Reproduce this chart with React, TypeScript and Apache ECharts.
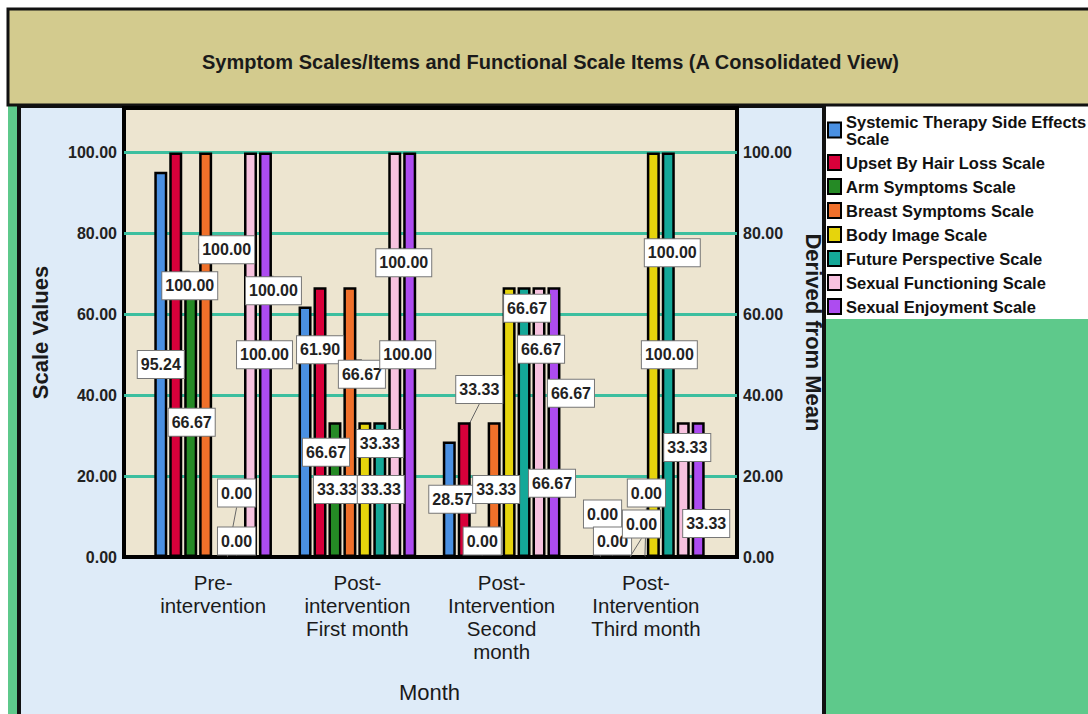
import React, { useEffect, useRef } from 'react';
import * as echarts from 'echarts';

// ---------- data ----------
const months = [
  'Pre-\nintervention',
  'Post-\nintervention\nFirst month',
  'Post-\nIntervention\nSecond\nmonth',
  'Post-\nIntervention\nThird month',
];
const seriesNames = [
  'Systemic Therapy Side Effects Scale',
  'Upset By Hair Loss Scale',
  'Arm Symptoms Scale',
  'Breast Symptoms Scale',
  'Body Image Scale',
  'Future Perspective Scale',
  'Sexual Functioning Scale',
  'Sexual Enjoyment Scale',
];
const systemicTherapy = [95.24, 61.9, 28.57, 0];
const upsetByHairLoss = [100, 66.67, 33.33, 0];
const armSymptoms = [66.67, 33.33, 0, 0];
const breastSymptoms = [100, 66.67, 33.33, 0];
const bodyImage = [0, 33.33, 66.67, 100];
const futurePerspective = [0, 33.33, 66.67, 100];
const sexualFunctioning = [100, 100, 66.67, 33.33];
const sexualEnjoyment = [100, 100, 66.67, 33.33];
const yMin = 0;
const yMax = 111;
const yInterval = 20;

// ---------- styling / layout ----------
const colors = ['#4a90e2', '#d8003a', '#258a25', '#f0702a', '#e6d40c', '#14a898', '#f7c2df', '#ad4cf0'];
// label displacement (dx, dy) from the bar centre, per series per category
const labelShift: number[][][] = [
  [[0, 0], [15, -82], [3, 0], [9, -43]],
  [[14, -69], [6, 30], [15, -100], [4, -16]],
  [[1, 0], [2, 0], [3, -16], [18, -33]],
  [[21, -105], [12, -48], [2, 0], [8, -64]],
  [[16, -64], [15, -46], [18, -114], [16, 0]],
  [[1, -16], [1, 0], [17, -73], [4, -102]],
  [[14, 0], [9, -92], [13, 61], [4, -42]],
  [[8, -64], [-2, 0], [17, -29], [8, 34]],
];

const FONT = "'Liberation Sans', Arial, sans-serif";

const seriesValues = [
  systemicTherapy, upsetByHairLoss, armSymptoms, breastSymptoms,
  bodyImage, futurePerspective, sexualFunctioning, sexualEnjoyment,
];

const fmt = (v: number) => v.toFixed(2);

export default function App() {
  const ref = useRef<HTMLDivElement>(null);
  useEffect(() => {
    const chart = echarts.init(ref.current!, null, { renderer: 'svg' });
    const option: any = {
      animation: false,
      backgroundColor: '#ffffff',
      title: {
        text: 'Symptom Scales/Items and Functional Scale Items (A Consolidated View)',
        left: 202,
        top: 52,
        padding: 0,
        textStyle: { fontFamily: FONT, fontSize: 20, fontWeight: 'bold', color: '#1a1a1a' },
      },
      graphic: [
        { type: 'rect', z: -10, shape: { x: 19, y: 106, width: 805, height: 612 }, style: { fill: '#deebf8', stroke: '#111', lineWidth: 4 } },
        { type: 'rect', z: -9, shape: { x: 826, y: 106, width: 266, height: 213 }, style: { fill: '#ffffff' } },
        { type: 'rect', z: -9, shape: { x: 826, y: 319, width: 266, height: 400 }, style: { fill: '#5ec98b' } },
        { type: 'rect', z: -9, shape: { x: 8, y: 106, width: 9, height: 612 }, style: { fill: '#5ec98b' } },
        { type: 'rect', z: -8, shape: { x: 8, y: 9, width: 1090, height: 96 }, style: { fill: '#d3cb8e', stroke: '#111', lineWidth: 3 } },
      ],
      legend: {
        data: seriesNames,
        orient: 'vertical',
        left: 827,
        top: 113,
        padding: 0,
        itemWidth: 13,
        itemHeight: 15,
        itemGap: 7,
        selectedMode: false,
        icon: 'rect',
        formatter: (n: string) => n.replace('Effects ', 'Effects\n'),
        textStyle: { fontFamily: FONT, fontSize: 16.5, fontWeight: 'bold', color: '#111', lineHeight: 17 },
        itemStyle: { borderColor: '#000', borderWidth: 2 },
      },
      grid: [
        { left: 124, right: 351, top: 108, bottom: 157, show: true, backgroundColor: '#ede5d0', borderColor: '#000', borderWidth: 4 },
        { left: 141, right: 370, top: 108, bottom: 157 },
      ],
      xAxis: [
        { gridIndex: 0, type: 'value', show: false, min: 0, max: 1 },
        {
          gridIndex: 1,
          type: 'category',
          data: months,
          axisLine: { show: false },
          axisTick: { show: false },
          axisLabel: { fontFamily: FONT, fontSize: 20.5, color: '#1a1a1a', lineHeight: 23, margin: 14, interval: 0 },
          name: 'Month',
          nameLocation: 'middle',
          nameGap: 124,
          nameTextStyle: { fontFamily: FONT, fontSize: 22, color: '#1a1a1a' },
        },
      ],
      yAxis: [
        {
          gridIndex: 0,
          type: 'value',
          min: yMin,
          max: yMax,
          interval: yInterval,
          position: 'left',
          axisLine: { show: false },
          axisTick: { show: false },
          axisLabel: { formatter: fmt, fontFamily: FONT, fontSize: 16, fontWeight: 'bold', color: '#222', margin: 7, showMaxLabel: false },
          splitLine: { show: true, showMaxLine: false, showMinLine: false, lineStyle: { color: '#3cbf9f', width: 3 } },
          name: 'Scale Values',
          nameLocation: 'middle',
          nameGap: 73,
          nameTextStyle: { fontFamily: FONT, fontSize: 22, fontWeight: 'bold', color: '#1a1a1a' },
        },
        {
          gridIndex: 0,
          type: 'value',
          min: yMin,
          max: yMax,
          interval: yInterval,
          position: 'right',
          axisLine: { show: false },
          axisTick: { show: false },
          axisLabel: { formatter: fmt, fontFamily: FONT, fontSize: 16, fontWeight: 'bold', color: '#222', margin: 6, showMaxLabel: false },
          splitLine: { show: false },
          name: 'Derived from Mean',
          nameLocation: 'middle',
          nameRotate: -90,
          nameGap: 58,
          nameTextStyle: { fontFamily: FONT, fontSize: 22, fontWeight: 'bold', color: '#1a1a1a' },
        },
        { gridIndex: 1, type: 'value', min: yMin, max: yMax, show: false },
      ],
      series: seriesValues.map((vals, si) => ({
        type: 'bar',
        name: seriesNames[si],
        xAxisIndex: 1,
        yAxisIndex: 2,
        data: vals,
        barWidth: 13,
        barGap: '15%',
        itemStyle: { color: colors[si], borderColor: '#000', borderWidth: 2.5 },
        label: {
          show: true,
          position: 'inside',
          formatter: (p: any) => fmt(p.value),
          fontFamily: FONT,
          fontSize: 16,
          fontWeight: 'bold',
          color: '#222',
          backgroundColor: '#ffffff',
          borderColor: '#777',
          borderWidth: 1,
          padding: [6, 3, 5, 3],
        },
        labelLine: { show: true, lineStyle: { color: '#666', width: 1 } },
        labelLayout: (p: any) => ({ dx: labelShift[si][p.dataIndex][0], dy: labelShift[si][p.dataIndex][1] }),
      })),
    };
    chart.setOption(option);
    return () => chart.dispose();
  }, []);
  return <div ref={ref} style={{ position: 'absolute', left: 0, top: 0, width: 1088, height: 714 }} />;
}
